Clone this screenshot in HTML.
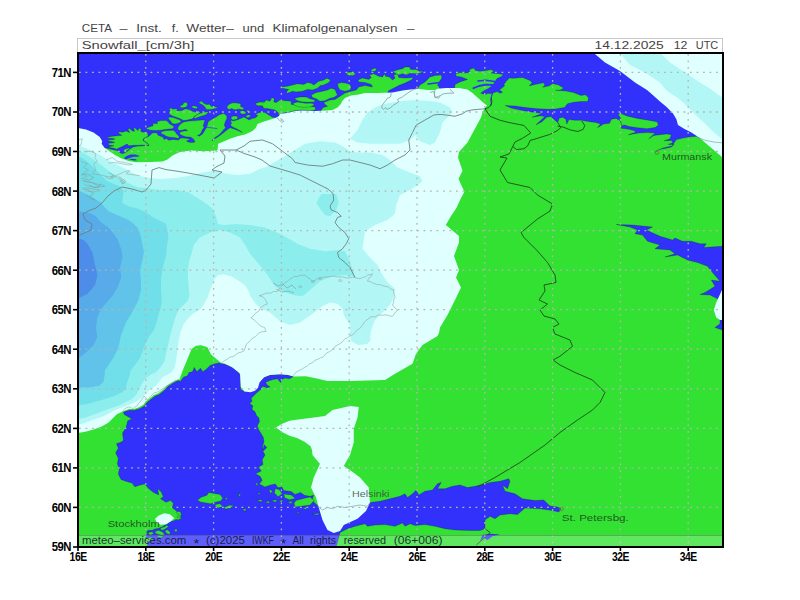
<!DOCTYPE html>
<html><head><meta charset="utf-8"><title>Snowfall</title>
<style>
html,body{margin:0;padding:0;background:#fff;}
body{width:800px;height:600px;overflow:hidden;}
svg{display:block}
text{font-family:"Liberation Sans",sans-serif;}
.ax text{font-weight:bold;font-size:12px;fill:#000;letter-spacing:-0.55px}
.t{font-size:11px;fill:#444;letter-spacing:0}
.c{font-size:9.3px;fill:#1e3c1e;fill-opacity:0.85}
.f{font-size:10px;fill:#0c1428;fill-opacity:0.88}
</style></head><body>
<svg width="800" height="600" viewBox="0 0 800 600">
<rect width="800" height="600" fill="#fff"/>
<defs><clipPath id="cp"><rect x="78" y="53" width="645" height="494"/></clipPath></defs>
<g clip-path="url(#cp)">
<rect x="78" y="53" width="645" height="494" fill="#3131fb"/>
<rect x="78" y="53" width="645" height="494" fill="#32e132"/>
<polygon points="78,53 722,53 722,143 713.75,142 705.6,140.4 699,138 697.5,136.3 688.5,137 683,138 676.4,139.6 672,146 663,148 656,151.4 660,149.3 665,148.5 671.5,146.9 674,144.4 668.25,144.4 673,142.8 671.5,140.4 664.2,140.7 669.9,138.75 671.5,134.7 666.6,133.9 660,134.7 653.6,135.5 648.75,138.75 655.25,133 647,132.6 639,133 628.4,134.7 635.75,132.25 634,130.6 627.6,129 621,128.2 622,125 620.3,120.9 616.25,118.4 611.4,119.25 609.5,123.25 603.5,124 597.5,127.75 600.5,124 596,122.5 590,121.75 581,120.25 575,120.25 569,119.5 566.75,124 566,119.5 563,117.25 559.25,118 557.75,122.5 554,119.5 551,116.5 546.5,117.25 542,121.75 536,124.75 545,116.5 540.5,115.75 532.25,117.25 542,113.5 537.5,112.75 530,111.7 522.5,110.5 512,108.25 505.25,105.6 515,106 525.5,107.5 537.5,108.7 549.5,109.3 555.5,109 560,108.25 564.5,107.5 567.5,103.75 573.5,102.25 581,101.5 587.75,101.5 588.5,97.75 585.5,94.75 581,95.5 573.5,92.5 566,91 555.5,90.25 560,90.25 563.75,88 558.5,85 552.5,83.5 549.5,85.75 542.75,87.25 545,85 543.5,82.75 536,84.25 529.25,85.75 532.25,82.75 530,80.5 522.5,77.5 513.5,78.25 509.4,78 506,81.4 503.75,84.8 504.8,85.6 502.6,87.6 499.25,89.9 502.6,92.1 500.4,93.25 497,91.6 493.6,92.7 490.25,93.8 488,93.25 485.75,94.4 480.7,93.25 483.5,91 488,88.75 492.5,85.4 494.7,82 497,78.6 501.5,76.4 503.2,74.4 498.75,73.75 491.25,73.1 493.75,71.25 491.25,69.4 486.25,70.6 480,71.25 475.6,70.6 473.75,68.1 469.4,69.4 470,71.9 466.25,73.1 460,72.5 455.6,73.75 456.25,76.25 461.25,76.9 467.5,79.4 460,81.9 455,84.4 454,95 444,95 439.4,88.1 438.75,86.25 437.5,85 438.75,82.5 441.9,78.1 441.25,75 435,75.6 430,76.9 425,81.9 420,85 417.5,88.75 414,95 386,96 388.75,90.6 392.5,88.75 398.75,85.6 405,83.1 411.25,80 413.75,77.5 405,78.1 398.75,77.5 397.5,73.75 393.75,75 395,78.1 392.5,80 389.4,76.9 385.6,76.25 384.4,73.75 382.5,76.9 378.75,76.25 373.75,73.75 369.4,75 371.25,77.5 368.75,79.4 362.5,78.1 358.1,80 358.75,81.9 365,82.5 371.25,84.4 372.5,86.9 365,85.6 358.75,86.9 356.25,90 350,91.5 345,93.1 340,96.25 335,99.4 330,100 323.75,102.5 325,104.4 327.5,106.25 323.1,107.5 321.25,110 320,120 280,122 276.9,117.75 272.5,117.25 268.75,115 265,112.5 261.5,112.1 258,112.9 255.4,114.7 258,115.6 255.4,117.75 251.9,118.6 249.25,119.9 246.6,118.6 244,116.9 240.5,118.6 237,119.9 233.5,120.8 231.3,120.4 230.4,121.25 231.75,123 230.4,124.75 231.75,126.5 235.25,128.25 238.75,130 242.25,132.4 237.9,130.4 233.5,128.7 230,127.8 227.4,129.6 224.75,131.75 221.25,134.4 217.75,137 214.7,138.75 212,141 212.9,139.2 215.1,137.4 218.6,135.25 221.25,132.6 223.4,130 225.6,127.8 224.3,125.2 225.2,122.1 226.9,118.6 226.9,116 223.9,113.5 219.9,114.4 216,116.9 211.6,119.5 208.6,121.25 207.8,123 207.3,125.6 206.1,128.25 204.4,130.9 202.6,133.9 199.3,136.2 197.4,135.25 199.9,134.6 201.2,132.4 202.4,129.6 204,127.8 203.2,125.6 204,123 205,119.9 201.25,120.1 196,120.6 189,121 183.75,121.9 181.1,123.6 178.5,126.25 177.6,128.9 179.4,130.6 182,130.2 185.5,129.3 187.7,130.6 183.75,131 180.25,131.9 179.4,133.7 182,135.4 185.5,136.75 190.75,137.2 193.4,138.9 195.1,142 192.5,142.6 189,142.2 186.4,141.1 188.8,139.9 190,138.8 187.25,138.5 183.75,138.1 180.7,138.1 178.5,140.1 173.25,139.4 168.9,140.25 166.25,138.5 164,139.4 163,137 160.4,136.2 158.2,135.3 156.9,133.1 154.25,132.7 152.5,133.1 150.3,134.9 148.5,136.4 145.7,137.5 143.7,138.8 143.5,140.6 145.7,142 148,143.8 149,145.6 143.75,145.8 138.5,146.1 133.25,146.9 130.2,148.7 128,150.8 125.4,152.8 121.9,153.7 118.8,151.9 117.1,150.4 112.25,149.5 107.4,148.2 103.9,148 100,160 78,165" fill="#3131fb" stroke="#001020" stroke-opacity="0.5" stroke-width="0.45" stroke-linejoin="round"/>
<polyline points="477.9,80.9 485.75,80.3 494.7,81.5" fill="none" stroke="#3131fb" stroke-width="1.5" stroke-linecap="round" stroke-linejoin="round"/>
<polyline points="473.4,88.2 479,86 485.75,84.6 492.5,85" fill="none" stroke="#3131fb" stroke-width="1.8" stroke-linecap="round" stroke-linejoin="round"/>
<polyline points="492.5,93.25 491.4,96.6 490.8,100 491.4,103.4 490.25,105.6" fill="none" stroke="#3131fb" stroke-width="1.1" stroke-linecap="round" stroke-linejoin="round"/>
<polyline points="428,84 440,82.5" fill="none" stroke="#3131fb" stroke-width="1.5" stroke-linecap="round" stroke-linejoin="round"/>
<polygon points="107.437,137.06 113.123,136.185 117.498,135.748 121.872,135.311 118.373,133.123 118.81,131.811 122.747,132.248 126.247,130.936 129.746,132.686 127.997,129.186 129.309,128.311 132.371,130.936 134.558,131.374 133.683,128.311 134.996,127.874 137.62,130.499 139.37,128.311 141.12,128.749 140.682,131.374 142.87,132.248 145.494,131.811 147.682,133.123 148.119,136.185 145.494,137.498 143.307,138.81 142.87,140.56 145.057,141.872 147.244,143.622 148.994,145.372 144.619,145.372 141.995,144.934 138.495,145.372 133.246,145.372 128.871,145.809 127.122,144.059 124.497,145.372 121.872,146.684 118.81,147.997 116.623,149.309 113.123,147.997 107.874,147.559 111.374,146.247 113.998,145.809 108.749,144.934 108.311,143.185 112.248,142.922 114.873,142.31 108.749,140.997 108.311,139.685 113.123,139.685 114.873,138.81 107.874,137.935" fill="#32e132" stroke="#001020" stroke-opacity="0.5" stroke-width="0.45" stroke-linejoin="round"/>
<polygon points="123.185,150.621 125.372,148.871 128.871,147.997 129.746,148.871 127.122,150.621 124.497,151.934" fill="#32e132" stroke="#001020" stroke-opacity="0.5" stroke-width="0.45" stroke-linejoin="round"/>
<polygon points="123.622,158.058 127.122,155.871 130.621,154.558 134.996,154.558 138.495,155.433 139.808,156.308 136.745,156.745 133.246,156.745 129.746,158.058 126.247,159.37" fill="#3131fb" />
<polygon points="128.871,159.545 131.496,158.67 134.996,158.933 137.62,160.245 134.121,160.42" fill="#3131fb" />
<polygon points="146.124,127.997 153.123,125.809 152.686,123.622 157.498,123.622 157.06,121.435 160.997,120.56 166.247,120.56 167.997,121.872 169.746,124.059 172.371,125.372 174.121,127.122 172.371,128.871 166.247,129.309 160.997,130.184 155.748,130.621 150.499,130.184 146.999,129.309" fill="#32e132" stroke="#001020" stroke-opacity="0.5" stroke-width="0.45" stroke-linejoin="round"/>
<polygon points="170.184,114.873 168.871,113.123 170.184,110.499 168.871,109.624 171.059,107.874 172.808,109.186 174.996,108.749 177.62,109.186 176.745,110.936 181.995,110.499 185.494,108.749 188.994,109.624 192.493,111.374 195.993,112.248 198.618,110.936 200.367,112.248 197.743,114.436 194.243,116.623 192.493,118.81 187.244,120.122 183.745,120.56 180.245,118.81 176.745,117.498 173.246,116.185" fill="#32e132" stroke="#001020" stroke-opacity="0.5" stroke-width="0.45" stroke-linejoin="round"/>
<polygon points="168.871,117.06 173.246,117.498 176.745,118.81 180.245,120.122 181.12,121.872 178.495,123.185 174.996,124.059 171.934,123.622 170.621,120.997 168.434,118.81" fill="#32e132" stroke="#001020" stroke-opacity="0.5" stroke-width="0.45" stroke-linejoin="round"/>
<polygon points="179.808,106.124 182.87,104.812 183.745,102.625 186.369,102.187 187.682,104.374 186.369,106.999 183.307,107.874 180.682,107.437" fill="#32e132" stroke="#001020" stroke-opacity="0.5" stroke-width="0.45" stroke-linejoin="round"/>
<polygon points="191.181,106.562 194.243,105.687 197.743,106.999 196.868,108.749 193.368,108.311" fill="#32e132" stroke="#001020" stroke-opacity="0.5" stroke-width="0.45" stroke-linejoin="round"/>
<polygon points="161.435,131.496 166.247,130.621 173.246,130.184 174.996,131.496 176.745,134.121 179.37,136.745 178.495,138.495 174.121,137.62 169.746,137.183 166.247,136.308 163.622,134.558 160.997,133.683" fill="#32e132" stroke="#001020" stroke-opacity="0.5" stroke-width="0.45" stroke-linejoin="round"/>
<polygon points="193.5,117.8 196,115.5 199.5,113.6 203.9,112.2 207.4,111.8 208.3,112.6 205.5,114.9 200.25,116.6 195,118.4" fill="#32e132" stroke="#001020" stroke-opacity="0.5" stroke-width="0.45" stroke-linejoin="round"/>
<polygon points="198.5,102.437 201.562,101.124 203.749,103.311 206.374,104.624 209.436,104.186 211.185,106.374 215.122,106.811 218.622,107.248 215.122,108.561 211.623,109.436 206.374,109.436 205.061,107.248 202.874,105.061 200.249,103.749" fill="#32e132" stroke="#001020" stroke-opacity="0.5" stroke-width="0.45" stroke-linejoin="round"/>
<polygon points="226.934,106.811 229.121,104.186 232.62,102.874 236.995,103.049 240.932,103.749 240.494,106.374 242.244,107.248 243.994,108.123 243.119,109.873 240.494,109.436 238.745,108.998 236.12,109.873 233.495,109.436 231.745,108.561 229.121,109.436 227.371,108.561" fill="#32e132" stroke="#001020" stroke-opacity="0.5" stroke-width="0.45" stroke-linejoin="round"/>
<polygon points="231.308,116.872 233.495,115.997 236.995,115.997 237.87,118.185 236.12,119.497 232.62,119.934 231.045,118.622" fill="#32e132" stroke="#001020" stroke-opacity="0.5" stroke-width="0.45" stroke-linejoin="round"/>
<polygon points="239.619,111.623 242.244,110.748 244.869,111.185 246.181,112.935 243.994,114.248 240.932,113.81" fill="#32e132" stroke="#001020" stroke-opacity="0.5" stroke-width="0.45" stroke-linejoin="round"/>
<polygon points="246.619,110.748 248.368,109.873 249.243,112.06 247.493,112.498" fill="#32e132" stroke="#001020" stroke-opacity="0.5" stroke-width="0.45" stroke-linejoin="round"/>
<polygon points="255.367,103.311 258.867,102.437 262.367,101.999 264.991,101.562 267.616,102.874 266.741,108.123 264.991,108.561 263.241,108.123 262.367,105.499 258.867,105.499 256.242,104.624" fill="#32e132" stroke="#001020" stroke-opacity="0.5" stroke-width="0.45" stroke-linejoin="round"/>
<polygon points="245.744,115.997 248.368,114.685 250.993,115.56 249.243,117.31 246.619,117.747" fill="#32e132" stroke="#001020" stroke-opacity="0.5" stroke-width="0.45" stroke-linejoin="round"/>
<polyline points="204.5,127.2 208.1,127.4 216.9,128.5" fill="none" stroke="#3131fb" stroke-width="0.7" stroke-linecap="round" stroke-linejoin="round"/>
<polygon points="255,103.75 260,101.875 263.75,103.125 266.25,100 270,101.25 271.875,97.5 274.375,98.75 273.75,101.875 276.25,102.5 280,100 285,100.625 291.25,101.25 291.25,104.375 297.5,105 302.5,106.875 310,106.25 315,106.875 315.625,110 310,110.625 302.5,110 295,110.625 287.5,112.5 281.25,113.125 278.75,115 278.125,112.5 275,110 272.5,109.375 268.75,108.75 263.75,108.125 262.5,105.625 257.5,105.625" fill="#32e132" stroke="#001020" stroke-opacity="0.5" stroke-width="0.45" stroke-linejoin="round"/>
<polygon points="280,86.875 287.5,86.25 292.5,85 297.5,83.75 303.75,84.375 307.5,82.5 311.25,83.125 313.75,85 318.75,81.25 323.75,80 326.875,78.125 330.625,80 328.75,82.5 323.75,85 320,85.625 317.5,88.125 312.5,90 307.5,89.375 302.5,91.25 296.25,91.875 292.5,91.25 287.5,93.125 286.25,91.875 288.75,89.375 285,88.75 280,87.5" fill="#32e132" stroke="#001020" stroke-opacity="0.5" stroke-width="0.45" stroke-linejoin="round"/>
<polygon points="294.375,98.125 300,96.875 306.25,96.875 310,98.75 315,100 314.375,101.875 308.75,102.25 302.5,101.875 297.5,100.625" fill="#32e132" stroke="#001020" stroke-opacity="0.5" stroke-width="0.45" stroke-linejoin="round"/>
<polygon points="293.125,103.125 297.5,101.875 305,103.125 312.5,103.125 314.375,105 310,106.875 303.75,107.5 297.5,106.5 293.75,105" fill="#32e132" stroke="#001020" stroke-opacity="0.5" stroke-width="0.45" stroke-linejoin="round"/>
<polygon points="311.25,95 316.25,92.5 322.5,91.25 327.5,90 331.25,88.125 335,89.375 336.25,92.5 337.5,95 333.75,97.5 330,98.125 325,100.625 320,101.25 316.25,98.75 312.5,97.5" fill="#32e132" stroke="#001020" stroke-opacity="0.5" stroke-width="0.45" stroke-linejoin="round"/>
<polygon points="337.5,83.75 341.25,82.5 346.25,83.125 350,84.375 351.25,86.875 350,90 345,91.25 340,90 338.125,86.875" fill="#32e132" stroke="#001020" stroke-opacity="0.5" stroke-width="0.45" stroke-linejoin="round"/>
<polygon points="346.25,72.5 350,71.875 351.875,73.125 350,75 346.875,74.375" fill="#32e132" stroke="#001020" stroke-opacity="0.5" stroke-width="0.45" stroke-linejoin="round"/>
<polygon points="393.125,71.25 398.75,69.375 402.5,68.75 405,66.875 409.375,66.875 410.625,69.375 416.25,69.375 419.375,71.25 423.75,71.25 420,73.125 415,73.75 410,73.125 406.25,75 402.5,73.75 398.75,75 395,73.125" fill="#32e132" stroke="#001020" stroke-opacity="0.5" stroke-width="0.45" stroke-linejoin="round"/>
<polygon points="370.625,70 374.375,68.125 376.875,68.75 375,71.25 371.875,71.25" fill="#32e132" stroke="#001020" stroke-opacity="0.5" stroke-width="0.45" stroke-linejoin="round"/>
<polygon points="346.25,73.125 351.25,71.875 356.25,73.75 352.5,75.625 347.5,75" fill="#32e132" stroke="#001020" stroke-opacity="0.5" stroke-width="0.45" stroke-linejoin="round"/>
<polygon points="617.9,114.4 621,113.6 626.8,116 637.4,118.4 647,120 656.9,121.7 658.5,125 655.25,127.4 647,128.7 637.4,127.7 629.25,126.6 624.4,125 622,125.5 620.5,121 620.3,117.6" fill="#32e132" stroke="#001020" stroke-opacity="0.5" stroke-width="0.45" stroke-linejoin="round"/>
<polygon points="616.25,224.5 632.5,225 652.5,227 646.25,230 660,236.25 672.5,240 675,238 682.5,241.25 691.25,241.25 700,243.75 706.25,243.75 703.75,247.5 722.5,246.25 722.5,330 715,327.5 720,323.75 720,300 710,295 700,294.5 705,292.5 715,286.25 711.25,280 720,281.25 712.5,272.5 707.5,266.25 697.5,262.5 687.5,260 677.5,255 665,257 675,253.75 670,250 655,248.75 660,245 647.5,241.25 642.5,235 635,233.75 637.5,230 630,227" fill="#3131fb" stroke="#001020" stroke-opacity="0.5" stroke-width="0.45" stroke-linejoin="round"/>
<polygon points="293.25,376.5 288,375 280.5,374.25 270,375 264.75,377.25 261,380.25 257.25,382.5 250,385 245,391.9 240.6,389.25 240.6,376 238,371.75 231,366.5 224,363.9 218.75,363 214.4,363.9 210,365.6 206.5,369 203,371.75 200.4,368.25 196.9,371.75 194.25,367.4 192.5,371.75 189,372.6 187.25,376 183.75,377 180.25,381.4 178.5,380.5 173.25,383 168,386.6 163.6,391 159.25,394.5 154.9,396.25 150.5,399.75 147,402.4 144.4,405.9 140,408.5 134.75,410.25 129.5,410.25 123.4,412 124.25,414.6 132,419 127.75,420.75 126,427.75 122.5,433 123.4,440 122,441.8 116.5,443.7 118.3,448.25 115.6,452.8 118.3,458.3 117.4,463.8 119.25,469.3 118.3,473.9 121,479.4 125.7,481.25 132,483 134.8,486.75 140.3,484.9 144.9,484 148.6,488.6 153.2,492.25 158.7,495 157.75,488.6 161.4,492.25 163.25,496.8 160.5,498.7 166,502.3 170.6,500.5 173.3,503.25 172.4,507.8 177,511.5 180.7,513.3 181.8,515 179.5,516.5 181.8,518 178.6,519.8 175.9,519.5 173.6,520.9 170.4,521.6 166.7,524.4 163.9,525.7 162.1,527.1 157.5,528.5 154.8,528.9 152,530.3 148.3,530.3 146.5,531.7 147.4,533.5 145.6,535.4 145.6,537.2 146.8,540 147.6,544.5 147,548 336,548 340,532.5 347.5,528.75 355,526.25 365,523.75 367.5,526.25 375,525 385,524.5 395,526.25 402.5,523 405,526.25 410,523.75 415,525.5 425,524.5 435,526.25 445,528.75 455,530 470,530.5 480,530.5 485,528.75 485,520 490,516.25 495,518.75 500,515 510,513.75 517.5,514.5 525,508 540,508.75 552.5,510.5 558.75,512 561,508.75 557.5,507 550,506 543.75,500 535,500.5 522.5,498.75 515,493.75 505,491.25 502.5,485 507.5,488.75 510,481.25 508.75,478.75 500,481.25 490,482.5 480,485 475,486.25 467.5,487.5 460,485 452.5,486.25 445,488.75 437.5,488.75 441.25,482.5 437.5,483.75 432.5,490 425,491.25 418.75,495 416.25,490 412.5,493.75 407.5,497.5 405,493.75 400,496.25 390,498.75 380,501.25 370,502.5 340,506 317.5,505.6 315.6,503.75 311.9,500 313.75,495.3 310,496.25 304.4,495.3 300.6,492.5 295,494.4 291.25,491.6 283.75,490.6 281.9,486.9 278,487.8 275.3,484 270.6,485 265,486.9 259.4,484 262.2,480.3 260.3,476.6 255.6,473.75 261.25,471 258.4,467.2 263,464.4 262.2,459.7 265,455 263,451.25 266.9,447.5 264,444.7 263.25,450 262.5,446.25 264,441.75 263.25,437.25 261,433.5 258.75,429.75 257.25,426 259.5,421.5 258.75,417.75 256.5,415.5 255,411.75 252,409.5 252.75,405.75 249.75,403.5 252,401.25 251.25,398.25 254.25,395.25 257.25,392.25 261,389.25 262.5,386.25 267,387.75 270,387 267,384.75 265.5,382.5 268.5,381 273,379.5 277.5,378.75 280.5,382.5 282,379.5 285,378 289.5,378.75" fill="#3131fb" stroke="#001020" stroke-opacity="0.5" stroke-width="0.45" stroke-linejoin="round"/>
<polygon points="482.5,535 490,533.75 500,534.5 492.5,536.25 487.5,540 483.75,537.5 480,541.25" fill="#3131fb" />
<polygon points="160.275,528.028 164.862,526.651 166.697,525.275 168.532,526.193 166.697,528.028 163.945,529.862 161.193,530.321" fill="#32e132" stroke="#001020" stroke-opacity="0.5" stroke-width="0.45" stroke-linejoin="round"/>
<polygon points="164.862,530.78 167.615,529.862 170.367,532.615 169.45,534.45 166.697,533.532" fill="#32e132" stroke="#001020" stroke-opacity="0.5" stroke-width="0.45" stroke-linejoin="round"/>
<polygon points="154.771,531.697 158.44,530.321 162.11,531.697 164.862,534.45 162.11,535.367 158.44,534.45 155.688,533.532" fill="#32e132" stroke="#001020" stroke-opacity="0.5" stroke-width="0.45" stroke-linejoin="round"/>
<polygon points="148.349,532.615 152.018,531.697 153.853,533.532 151.101,534.908 148.807,534.45" fill="#32e132" stroke="#001020" stroke-opacity="0.5" stroke-width="0.45" stroke-linejoin="round"/>
<polygon points="156.606,535.367 160.275,535.826 163.945,536.743 161.193,537.661 157.523,536.743" fill="#32e132" stroke="#001020" stroke-opacity="0.5" stroke-width="0.45" stroke-linejoin="round"/>
<polygon points="174.037,529.862 176.789,528.945 177.248,531.239 175.413,531.697" fill="#32e132" stroke="#001020" stroke-opacity="0.5" stroke-width="0.45" stroke-linejoin="round"/>
<polygon points="170.367,535.367 172.202,535.826 171.284,536.743" fill="#32e132" stroke="#001020" stroke-opacity="0.5" stroke-width="0.45" stroke-linejoin="round"/>
<polygon points="146.514,538.119 151.101,537.202 153.853,538.578 151.101,540.872 147.431,541.33 144.679,539.954" fill="#32e132" stroke="#001020" stroke-opacity="0.5" stroke-width="0.45" stroke-linejoin="round"/>
<polygon points="175.872,511.972 179.541,511.514 181.376,513.349 179.541,514.725 177.248,513.807" fill="#32e132" stroke="#001020" stroke-opacity="0.5" stroke-width="0.45" stroke-linejoin="round"/>
<polygon points="177.706,515.642 181.376,516.284 179.083,517.936 176.789,517.294" fill="#32e132" stroke="#001020" stroke-opacity="0.5" stroke-width="0.45" stroke-linejoin="round"/>
<polygon points="197.5,500 201.25,497.2 206.9,495.3 208.75,492.5 214.4,493.4 220,494.4 222.8,498 220.9,501 216.25,501.9 210.6,503.75 205,502.8 200.3,501.9" fill="#32e132" stroke="#001020" stroke-opacity="0.5" stroke-width="0.45" stroke-linejoin="round"/>
<polygon points="214.4,504.7 220,503.75 222.8,506.6 218,507.9" fill="#32e132" stroke="#001020" stroke-opacity="0.5" stroke-width="0.45" stroke-linejoin="round"/>
<polygon points="223.75,507.5 229.4,505.25 234,505.6 230.3,507.9 225.6,509" fill="#32e132" stroke="#001020" stroke-opacity="0.5" stroke-width="0.45" stroke-linejoin="round"/>
<polygon points="256.567,500.004 262.192,499.629 261.254,501.879" fill="#32e132" stroke="#001020" stroke-opacity="0.5" stroke-width="0.45" stroke-linejoin="round"/>
<polygon points="265.005,501.879 269.692,500.941 268.755,503.379" fill="#32e132" stroke="#001020" stroke-opacity="0.5" stroke-width="0.45" stroke-linejoin="round"/>
<polygon points="271.568,500.379 277.193,499.629 275.318,502.254" fill="#32e132" stroke="#001020" stroke-opacity="0.5" stroke-width="0.45" stroke-linejoin="round"/>
<polygon points="279.068,500.941 282.818,499.629 281.881,502.816" fill="#32e132" stroke="#001020" stroke-opacity="0.5" stroke-width="0.45" stroke-linejoin="round"/>
<polygon points="255.254,482.753 257.879,483.503 257.129,486.128" fill="#32e132" stroke="#001020" stroke-opacity="0.5" stroke-width="0.45" stroke-linejoin="round"/>
<polygon points="257.504,492.503 260.504,493.253 259.004,494.378" fill="#32e132" stroke="#001020" stroke-opacity="0.5" stroke-width="0.45" stroke-linejoin="round"/>
<polygon points="311.883,514.067 319.383,513.13 317.508,515.005" fill="#32e132" stroke="#001020" stroke-opacity="0.5" stroke-width="0.45" stroke-linejoin="round"/>
<polygon points="295.944,512.755 299.132,512.005 298.382,513.505" fill="#32e132" stroke="#001020" stroke-opacity="0.5" stroke-width="0.45" stroke-linejoin="round"/>
<polygon points="242.503,509.379 246.254,508.442 245.316,511.254" fill="#32e132" stroke="#001020" stroke-opacity="0.5" stroke-width="0.45" stroke-linejoin="round"/>
<polygon points="238.378,493.441 240.628,494.753 239.503,497.191" fill="#32e132" stroke="#001020" stroke-opacity="0.5" stroke-width="0.45" stroke-linejoin="round"/>
<polygon points="224.502,497.191 227.502,498.129 226.565,500.004" fill="#32e132" stroke="#001020" stroke-opacity="0.5" stroke-width="0.45" stroke-linejoin="round"/>
<polygon points="275.318,488.378 279.068,489.503 282.256,493.816 278.131,496.629 274.38,492.878" fill="#32e132" stroke="#001020" stroke-opacity="0.5" stroke-width="0.45" stroke-linejoin="round"/>
<polygon points="283.756,494.003 291.256,494.941 295.382,498.504 289.381,499.629 284.693,497.754" fill="#32e132" stroke="#001020" stroke-opacity="0.5" stroke-width="0.45" stroke-linejoin="round"/>
<polygon points="295.944,500.379 302.507,498.691 310.008,497.004 314.133,500.379 310.008,505.067 302.507,506.004 295.007,506.942 294.069,503.191" fill="#32e132" stroke="#001020" stroke-opacity="0.5" stroke-width="0.45" stroke-linejoin="round"/>
<polygon points="268.755,489.128 272.505,491.003 270.63,493.816" fill="#32e132" stroke="#001020" stroke-opacity="0.5" stroke-width="0.45" stroke-linejoin="round"/>
<polygon points="302.507,507.879 307.195,507.129 305.882,509.379" fill="#32e132" stroke="#001020" stroke-opacity="0.5" stroke-width="0.45" stroke-linejoin="round"/>
<polygon points="287.506,501.879 292.194,501.129 291.256,503.754" fill="#32e132" stroke="#001020" stroke-opacity="0.5" stroke-width="0.45" stroke-linejoin="round"/>
<polygon points="78,128 86,129.4 93.5,132.5 99.75,136.9 102.25,141.25 101.6,143.75 104.5,147.75 109.75,151.5 115,154.9 121,158.25 128.5,160.9 136,162.3 150,162 162.5,161.5 167.5,159.4 172.5,155.5 180,151.9 191.25,150.6 203.75,151.25 217.5,150.6 218.1,143.75 222.5,141.9 230,138.75 237.5,136.25 245,134.4 252.5,131 256,127.5 257.5,124 262.5,122 269,120 276,117.75 279,116 280,113.75 287.5,113 295,111 302.5,110.6 315,111 327.5,110.6 332.5,110 337.5,107.5 341,103.75 342,101.25 345,98 351,95.6 358.75,94.4 365,93 377.5,93 392.5,92.5 402.5,90.6 410,89.4 417.5,88.75 427.5,90 435,90 437.5,88.75 446,88 458.75,88 467.5,89.4 472.5,93 477.5,97.5 482.5,102 487,105.6 484.4,108.75 482.5,112.5 481,117.5 477.5,124 467.5,142.5 459,152 458,157.5 462.5,170.8 458.5,179 464.4,191.7 461,198 456.25,208.3 451,216 445.8,225 459,236 459,242.5 454,256 459,270 456,277.5 461,287.5 455,300 447.5,315 440,327.5 439,333 437.5,336 422.5,345 416,353.75 412.5,363.75 395,373.75 385,380 350,381 327.5,381 318,378.75 306,376.2 294,376.5 288,375 280.5,374.25 270,375 264,377.25 259.5,382.5 258,387.75 255,390.75 250.5,392.25 244.5,391.5 240.75,387 240,373.5 232.5,367.5 225,363.75 221.4,363 217,359.5 210.9,354.25 207.4,347.25 201.25,345.15 196,345.85 191.6,349 187.25,359.5 182.9,370 179.4,379.6 177.5,379.5 172.5,382 167,385.5 162.6,390 158.25,393.3 153.9,395 149.5,398.5 146,401.2 143.4,404.7 139,407.3 134,409 129,409 122.6,411.4 116.8,414.3 113.3,417.8 108.6,422.5 101.7,426.5 93.5,429.5 85.3,431.8 78,433" fill="#e0ffff" />
<polygon points="276,427.5 282,423.75 289.5,420.75 300,419.25 312,417.75 325,416 332.5,410 350,406 358.75,407 357.5,417.5 353.75,428.75 353.75,442.5 350,455 343.75,466 350,470 360,477.5 368.75,487.5 370,502.5 366,511 357.5,518.75 343.75,525 340,531 333.75,533 327.5,530 322.5,520 318.75,507.5 316,497.5 311,487.5 313.75,477.5 320,463.75 318.75,462.5 312.5,455 312,450 310.5,446.25 304.5,441.75 297,438 289.5,435.75 282,432" fill="#e0ffff" />
<polygon points="155,518.8 158.7,515.5 164.2,513.3 169.7,514.25 174.25,517.9 170.6,521.6 166,524.3 160.5,524.7 156.8,522.5" fill="#e0ffff" />
<polygon points="593.75,53 605,62.5 620,71 635,82.5 647,90 653.6,95.7 660,101.4 666.6,107 673,113.5 676.4,119.25 678,125 684.5,129 691,132.25 696,135.5 700.75,138.75 707.25,144.4 713.75,150 722,157 722,53" fill="#e0ffff" />
<polygon points="620,53 630,65 645,72.5 660,82.5 665.8,90 671.5,94 678,98 684.5,103.8 691,110.3 697.5,116.8 705.6,124 713.75,132.25 722,139 722,97.3 717,94 712,90 700,82.5 685,72.5 670,62.5 660,53" fill="#b2f7f5" />
<polygon points="722,290 716.25,302.5 713.75,310 716.25,317.5 720,320 722.5,320" fill="#e0ffff" />
<polygon points="78,145 90,150 100,155 110,161.25 125,168.75 136,174.5 146,177.5 160,179 176,178 188,176 200,173 212,171 220,172 228,174 238,175 250,173.75 260,168.75 265,167.5 282.5,157.5 295,150 305,143.75 320,141.25 335,142.5 345,147.5 350,151.25 357.5,152.5 370,152.5 382.5,155 390,160 397.5,167.5 410,172.5 420,176.25 422.5,181.25 417.5,185 410,190 400,195 396.25,205 395,213.75 387.5,220 375,225 365,231.25 363.75,240 362.5,248.75 370,257.5 377.5,265 382.5,275 387.5,282.5 395,288.75 393.75,297.5 390,305 382.5,312.5 375,320 371.25,330 370,337.5 365,342.5 355,341.25 350,335 350,325 343.75,315 342.5,308.75 337.5,303.75 330,302.5 322.5,306.25 312.5,313.75 300,322.5 290,325 280,321.25 270,312.5 260,308 255.5,303.5 250.25,296 248,290 245,285.5 239,281 231.5,276.5 224,274.25 218,275 214.25,279.5 212,285.5 209.75,291.5 207.5,297.5 204.5,303.5 200,309.5 192.5,314 188,318.5 183.5,324.5 180.5,332 178.5,342 176.75,356 175,366.5 171.5,372.6 162.75,377 156,385.75 150.6,389.25 146,393.3 141.3,398 136.6,401.5 129.6,404.4 122.6,407.3 113.3,410.8 106.3,415 99.3,417.8 92.3,420 85.3,423 78,424.8" fill="#b2f7f5" />
<polygon points="350,138.75 357.5,130 362.5,120 367.5,112.5 375,107.5 385,103.75 400,101.25 415,100 430,101 440,102.5 450,107.5 452.5,112.5 442.5,122.5 440,132.5 435,142.5 430,145 420,141.25 415,135 410,140 400,143.75 385,143.75 370,143.75 357.5,142.5" fill="#b2f7f5" />
<polygon points="350,336 355,333.5 362,333 369,335 371,340 367,344 358,345 351,341" fill="#b2f7f5" />
<polygon points="78,151.25 83.5,153.1 91,157.5 98.5,163.1 106,168.75 113.5,174.4 121,178.75 126,181.9 132.25,185 138.5,187.5 146,188.1 160,190 176,190 188,192 196,197 204,202 212,208 216,216 218,224 224,225 236,224 250,225 265,227.5 282.5,235 297.5,243.75 310,248.75 325,251.25 337.5,250 345,251.25 350,261.25 352.5,270 355,276.25 345,275 332.5,276.25 320,281.25 310,290 302.5,296.25 292.5,295 282.5,291.25 275,286.25 267.5,275 257.5,262.5 250,253.75 245,245 240,237.5 230,232.5 220,230 210,232.5 200,237.5 193.75,245 191.25,255 189.5,260 188,269 188,278 188.75,287 189.5,294.5 188,300.5 183.5,305 179,309.5 176,315.5 173.75,323 171.5,330.5 169.25,339.5 167,350 164.5,361.25 160,368 156,372.3 150.6,374.7 144.8,379.3 141.3,385 139,389.8 136.6,394.5 132,399 125,402.6 118,406 108.6,409 99.3,412.5 92.3,415 85.3,417.8 78,419" fill="#8ceeec" />
<polygon points="316.25,202.5 321.25,194 336.25,194 338.75,202.5 336.25,210 330,216.25 325,215 320,208.75" fill="#8ceeec" />
<polygon points="78,156.25 83.5,158.75 88.5,162.5 93.5,167.5 98.5,172.5 103.5,177.5 107.25,181.25 113.5,183.75 119.75,186.25 123.5,191.25 122.9,197.5 122.25,203.1 128.5,206.25 138.5,208.75 146,212.5 153.5,217.5 161,221.25 166,223.75 167.25,230 168.5,237.5 167,245 166.25,255 164.75,260 162.5,269 161,279.5 161,290 161.75,299 161,306.5 158.75,314 156.5,323 153.5,330.5 149,336.5 146,342.5 143,350 140,358 135,365 130.8,370 129.6,375.8 127.3,381.7 126,387.5 122.6,392 114.5,396 105,399 94.7,402 85.3,404.4 78,405" fill="#70dfe9" />
<polygon points="78,190.6 86,193.75 93.5,198 101,202.5 104.75,207.5 108.5,211.25 117.25,215 126,218.75 132.25,222.5 137.25,227.5 139.75,232.5 141,237.5 142.5,245 144,252 142.5,260 140,270 141,280 141,290 138.5,300 133.5,310 126,322.5 121,335 118.5,347.5 113.5,357.5 108,366 105,370 104.6,375.8 103.4,381.7 99.3,385.75 90,387.5 78,387.5" fill="#61c3e9" />
<polygon points="78,211.25 83.5,211.9 89.75,213 96,216.25 99.75,221.25 104.75,225 109.75,228.75 113.5,233.75 117.25,238.75 119.75,245 121.5,250 122.5,257.5 120,267.5 121.25,277.5 117.5,287.5 113,295 107,302 101,309 97.25,317.5 96,327.5 97.25,337.5 93.5,345 86,352.5 78,358.75" fill="#56abe8" />
<polygon points="78,238 83.5,240 87.5,243.75 92.5,252.5 95,265 97.5,275 95,285 87.5,293.75 82,296.5 78,298.75" fill="#4e8ce9" />
<polyline points="512.75,146.5 509,154 500,157 507,158 500,170 507.5,182.5 530,187.5 537.5,195 552.5,204 550,211 537.5,219 521,232.5 524,237.5 537.5,251 547.5,262.5 555,275 556,282.5 544,285 545,291 539,300 547.5,304 540,310 544,316 555,319 559,324 552.5,327.5 555,334 570,340 572.5,346.25 560,356.25 553,360 560,365 575,372.5 592.5,380 605,392.5 600,402.5 592.5,410 577.5,420 560,432.5 545,445 520,462.5 495,477.5 477.5,487" fill="none" stroke="#1e4a1e" stroke-width="0.9"/>
<polyline points="485,108.75 490,116.25 500,120.25 509,122.5 524,125.5 530.75,133 522.5,138.25 515,142 512.75,146.5 516.5,149.5 524,148.75 527.75,145.75 530,140.5 537.5,138.25 549.5,134.5 557,130.75 560.75,127.75 557.75,122.5" fill="none" stroke="#1e4a1e" stroke-width="0.9"/>
<polyline points="557.75,126.25 563,127 570.5,130 578,131.5 583.25,129.25 584.75,125.5 581.75,121" fill="none" stroke="#1e4a1e" stroke-width="0.9"/>
<polyline points="485,108.75 488.75,107.5 491.25,105 491.9,101.25 491.25,98" fill="none" stroke="#1e4a1e" stroke-width="0.9"/>
<polyline points="485,528.75 490,532.5 485,537.5 476.25,545" fill="none" stroke="#1e4a1e" stroke-width="0.9"/>
<polyline points="485,108.75 482.5,109 477.5,109.4 471.25,110 466.25,111.25 462.5,113.75 455,116.25 446.25,115 440,114.4 433.75,115 425,120 416.25,125 412.5,132.5 408.75,140 410,150 405,155 395,160 387.5,165 380,168.75 370,165 360,162.5 350,160 342.5,160 332.5,163.75 322.5,166.25 307.5,165 295,162.5 292.5,158.75 282.5,151.25 272.5,143.75 262.5,140 250,141.25 244,146 236,150 220,150 225,156 224,163 216,167 212,170 222,172 214,178 204,176 188,173 176,171 166,169.6 159,167.6 152,170 151,184 146,190 142,192 132,189 122,187 114,191 108,196 102,203 96,208 88,211 83,214 85,220 92,224 91,230 78,236" fill="none" stroke="#6f7f80" stroke-width="0.9"/>
<polyline points="236,150 245,153.75 255,157 262,160 270,166 275,167.5 287,171 300,175 310,180 320,185 328,189 333,193.5 333.75,200 330,206.25 331.25,210 337.5,212.5 341.25,216.25 337.5,217.5 335,222.5 338.75,227.5 345,232.5 348.75,238.75 346.25,243.75 342.5,248.75 337.5,252.5 338.75,257.5 345,262.5 350,267.5 355,277.5" fill="none" stroke="#6f7f80" stroke-width="0.9"/>
<polyline points="221.4,363 224.3,360.76 227.5,359 230,357.13 233.11,356.48 235.75,354.9 238.19,352.91 241.28,352.18 244,350.75 245.14,347.91 246.03,344.94 248,342.5 250.34,340.68 252.21,338.25 255,337 256.92,334.92 259,333 262.36,331.58 266,331.5 264.6,327.4 261.51,326.59 259,324.6 256.91,322.63 255,320.5 250.9,317.75 253.32,316.04 255,313.6 259,310.9 259.96,308.48 261.9,306.75 264.45,304.98 267.4,304 266.18,301.16 264.6,298.5 262.12,296.48 259,295.75 261.84,294.95 264.55,293.76 267.4,293 270.71,293.29 273.7,291.35 277,291.6 278.96,289.89 280,287.5 282.28,285.16 284.64,282.9 287.5,281.25 289.66,279.07 292.33,277.66 295,276.25 297.56,276.44 299.94,275.12 302.52,275.44 305,275 307.36,277.25 310.13,279.01 312.5,281.25 315.03,280.38 317.25,278.72 319.75,277.78 322.5,277.5 324.94,276.72 327.54,277.16 329.99,276.45 332.5,276.25 335.03,276.2 337.49,276.89 340.01,276.93 342.53,276.93 345,277.5 347.5,277.97 350,277.82 352.5,277.09 355,277.5 357.47,278.24 360,278.75 362.52,277.54 365.27,276.79 367.5,275 370.09,274.73 372.5,273.75 371.12,276.44 368.53,278.32 367.5,281.25 370.19,281.5 372.54,282.79 375,283.75 377.4,284.77 380.14,284.46 382.5,285.61 385,286.25 388.21,286.82 390.73,289 393.75,290 393.75,292.57 394.47,295.02 395,297.5 393.6,299.81 393.62,302.59 392.5,305 394.78,307.72 397.5,310 395.72,311.99 394.07,314.09 392.5,316.25 389.99,316.07 387.55,315.21 385.07,314.79 382.5,315.29 380,315 377.44,315.37 375.17,316.93 372.42,316.56 370,317.5 367.96,319.21 365.69,320.69 364.01,322.76 362.5,325 360.87,327.12 358.88,328.88 356.68,330.43 355,332.5 352.9,334.71 350.03,335.68 347.78,337.64 345,338.75 342.89,341.3 340.45,343.46 337.5,345 335.15,346.33 333.7,348.8 331.5,350.32 329.28,351.8 326.71,352.87 325,355 323.19,356.9 320.71,357.74 318.46,358.93 316.01,359.81 313.9,361.23 312,363 309.31,363.9 307.38,366.11 304.87,367.32 302.51,368.8 300,370 297.27,371.53 294.86,373.44 293,376" fill="none" stroke="#93a5a5" stroke-width="0.6"/>
<polyline points="317.5,506.25 322.5,510 327.5,507.5 332.5,508.75 337.5,506.25 345,507.5 352.5,506.25 360,505 367.5,506.25 370,502.5" fill="none" stroke="#8c9c9c" stroke-width="0.7"/>
<polyline points="273,283 278,286 283,284 287,288 292,285 296,289" fill="none" stroke="#7f9092" stroke-width="0.55"/>
<polyline points="276,289 282,292 288,291 294,293" fill="none" stroke="#7f9092" stroke-width="0.55"/>
<ellipse cx="300.4" cy="286.7" rx="1.6" ry="0.9" fill="none" stroke="#8a9b9d" stroke-width="0.5"/>
<ellipse cx="312.8" cy="281.5" rx="1.6" ry="0.9" fill="none" stroke="#8a9b9d" stroke-width="0.5"/>
<ellipse cx="320.2" cy="278.7" rx="1.6" ry="0.9" fill="none" stroke="#8a9b9d" stroke-width="0.5"/>
<ellipse cx="340.3" cy="280.6" rx="1.6" ry="0.9" fill="none" stroke="#8a9b9d" stroke-width="0.5"/>
<polyline points="122.6,411.4 124.86,408.66 128,407 130.74,407.4 133,409 134.68,407.07 137,406 138.58,403.17 141,401 142.47,398.48 144,396 145.87,398.13 148,400 149.63,397.2 152,395 154.56,392.61 158,392 160.91,389.87 164,388 166.85,385.78 170,384 173.07,382.11 176,380" fill="none" stroke="#93a5a5" stroke-width="0.6"/>
<polyline points="391.25,93.125 390.625,96.875 387.5,98.125 386.25,100 383.75,103.125 381.875,105.625 381.875,108.125 383.75,109.375 385.625,107.5 386.875,109.375 390,108.125 393.75,105 398.75,101.875 397.5,99.375 402.5,96.875 407.5,93.125 412.5,90 416.25,88.75" fill="none" stroke="#8c9c9c" stroke-width="0.8"/>
<polyline points="435,90 434.375,93.75 435,97.5 438.75,98.125 440,96.25" fill="none" stroke="#8c9c9c" stroke-width="0.8"/>
<polyline points="430,92.5 433.75,91.25 435,97.5 438.75,96.25 443.75,93.75 450,93.125 453.75,93.125 451.25,90.625 450,88.75" fill="none" stroke="#8c9c9c" stroke-width="0.8"/>
<polyline points="276.875,117.75 279.375,120 281.875,122.5 283.75,121.25 280.625,118.125" fill="none" stroke="#8c9c9c" stroke-width="0.8"/>
<polyline points="699,138 705.6,140.4 713.75,142 722,142.8" fill="none" stroke="#9aa" stroke-width="0.8"/>
<polyline points="78.5,140 82.25,138.75 81,145 78.5,146.25" fill="none" stroke="#8fa3a5" stroke-width="0.55"/>
<polyline points="83.5,151.875 91,151.25 96,153.75 94.75,157.5 97.25,161.25 93.5,163.75 96,170 92.25,172.5" fill="none" stroke="#8fa3a5" stroke-width="0.55"/>
<polyline points="106,160 112.25,157.5 117.25,161.25 124.75,162.5 132.25,164.375 128.5,165 118.5,163.125 113.5,162.5 108.5,163.125" fill="none" stroke="#8fa3a5" stroke-width="0.55"/>
<polyline points="92.25,173.75 101,175 108.5,176.875 117.25,175 126,171.25 129.75,170.625 126,173.75 134.75,175 139.75,175.625" fill="none" stroke="#8fa3a5" stroke-width="0.55"/>
<polyline points="81,161.25 87.25,163.75 83.5,167.5 88.5,170 82.25,173.75 87.25,176.25 81,178.75" fill="none" stroke="#8fa3a5" stroke-width="0.55"/>
<polyline points="117.25,177.5 122.25,180 124.75,182.5 122.25,183.75 119.75,180" fill="none" stroke="#8fa3a5" stroke-width="0.55"/>
<polyline points="81,180 91,182.5 101,185 97.25,187.5 88.5,186.25 83.5,183.75" fill="none" stroke="#8fa3a5" stroke-width="0.55"/>
<polyline points="83.5,187.5 92.25,188.75 99.75,190 94.75,191.875 87.25,191.25" fill="none" stroke="#8fa3a5" stroke-width="0.55"/>
<polyline points="104.75,176.25 108.5,178.75 113.5,178.125" fill="none" stroke="#8fa3a5" stroke-width="0.55"/>
<polyline points="81,175 87.25,173.75 93.5,177.5 89.75,180 83.5,178.75" fill="none" stroke="#82989c" stroke-width="0.55"/>
<polyline points="83.5,181.25 92.25,182.5 98.5,186.25 101,183.75 104.75,186.25 94.75,187.5 88.5,185" fill="none" stroke="#82989c" stroke-width="0.55"/>
<polyline points="82.25,188.75 88.5,190 93.5,193.75 89.75,196.25 94.75,200 91,198.75 86,195" fill="none" stroke="#82989c" stroke-width="0.55"/>
<polyline points="108.5,172.5 113.5,175 111,177.5 117.25,176.25" fill="none" stroke="#82989c" stroke-width="0.55"/>
<polyline points="118.5,176.25 126,181.25 123.5,183.75 121,180" fill="none" stroke="#82989c" stroke-width="0.55"/>
<g stroke="#b6b4b0" stroke-width="1.3" stroke-dasharray="1.8 4.7" fill="none">
<line x1="78.0" y1="54" x2="78.0" y2="546"/>
<line x1="145.8" y1="54" x2="145.8" y2="546"/>
<line x1="213.6" y1="54" x2="213.6" y2="546"/>
<line x1="281.4" y1="54" x2="281.4" y2="546"/>
<line x1="349.2" y1="54" x2="349.2" y2="546"/>
<line x1="417.0" y1="54" x2="417.0" y2="546"/>
<line x1="484.8" y1="54" x2="484.8" y2="546"/>
<line x1="552.6" y1="54" x2="552.6" y2="546"/>
<line x1="620.4" y1="54" x2="620.4" y2="546"/>
<line x1="688.2" y1="54" x2="688.2" y2="546"/>
<line x1="79" y1="547.0" x2="722" y2="547.0"/>
<line x1="79" y1="507.4" x2="722" y2="507.4"/>
<line x1="79" y1="467.9" x2="722" y2="467.9"/>
<line x1="79" y1="428.4" x2="722" y2="428.4"/>
<line x1="79" y1="388.8" x2="722" y2="388.8"/>
<line x1="79" y1="349.2" x2="722" y2="349.2"/>
<line x1="79" y1="309.7" x2="722" y2="309.7"/>
<line x1="79" y1="270.2" x2="722" y2="270.2"/>
<line x1="79" y1="230.6" x2="722" y2="230.6"/>
<line x1="79" y1="191.1" x2="722" y2="191.1"/>
<line x1="79" y1="151.5" x2="722" y2="151.5"/>
<line x1="79" y1="112.0" x2="722" y2="112.0"/>
<line x1="79" y1="72.4" x2="722" y2="72.4"/>
</g>
<circle cx="656.9" cy="152.5" r="1.8" fill="none" stroke="#5a6a2a" stroke-width="0.7"/>
<circle cx="561.5" cy="509" r="1.8" fill="none" stroke="#8a6a4a" stroke-width="0.7"/>
<text class="c" x="662" y="160" textLength="50" lengthAdjust="spacingAndGlyphs">Murmansk</text>
<text class="c" x="107.7" y="526.7" textLength="52" lengthAdjust="spacingAndGlyphs">Stockholm</text>
<text class="c" x="352" y="497" textLength="37.5" lengthAdjust="spacingAndGlyphs" style="fill:#3c4a3c">Helsinki</text>
<text class="c" x="561.75" y="520.5" textLength="67" lengthAdjust="spacingAndGlyphs">St. Petersbg.</text>
<rect x="78.5" y="535.5" width="644" height="11" fill="#fff" fill-opacity="0.22" stroke="#6a6a6a" stroke-opacity="0.6" stroke-width="0.8"/>
<text class="f" x="82" y="544.2" textLength="104.25" lengthAdjust="spacingAndGlyphs">meteo–services.com</text><text class="f" x="193.6" y="548.2" textLength="5.800000000000011" lengthAdjust="spacingAndGlyphs" style="font-size:13px">*</text><text class="f" x="206" y="544.2" textLength="39" lengthAdjust="spacingAndGlyphs">(c)2025</text><text class="f" x="252" y="544.2" textLength="21.75" lengthAdjust="spacingAndGlyphs">IWKF</text><text class="f" x="280.4" y="548.2" textLength="5.800000000000011" lengthAdjust="spacingAndGlyphs" style="font-size:13px">*</text><text class="f" x="292.5" y="544.2" textLength="11.25" lengthAdjust="spacingAndGlyphs">All</text><text class="f" x="310" y="544.2" textLength="26" lengthAdjust="spacingAndGlyphs">rights</text><text class="f" x="343.75" y="544.2" textLength="42.25" lengthAdjust="spacingAndGlyphs">reserved</text><text class="f" x="393.75" y="544.2" textLength="48.75" lengthAdjust="spacingAndGlyphs">(06+006)</text>
</g>
<rect x="77.5" y="38.5" width="645" height="14" fill="#fff" stroke="#c8c8c8" stroke-width="1"/>
<rect x="78" y="53" width="645" height="494" fill="none" stroke="#000" stroke-width="2"/>
<g stroke="#000" stroke-width="1.6"><line x1="78.0" y1="547" x2="78.0" y2="551"/><line x1="145.8" y1="547" x2="145.8" y2="551"/><line x1="213.6" y1="547" x2="213.6" y2="551"/><line x1="281.4" y1="547" x2="281.4" y2="551"/><line x1="349.2" y1="547" x2="349.2" y2="551"/><line x1="417.0" y1="547" x2="417.0" y2="551"/><line x1="484.8" y1="547" x2="484.8" y2="551"/><line x1="552.6" y1="547" x2="552.6" y2="551"/><line x1="620.4" y1="547" x2="620.4" y2="551"/><line x1="688.2" y1="547" x2="688.2" y2="551"/><line x1="73" y1="547.0" x2="78" y2="547.0"/><line x1="73" y1="507.4" x2="78" y2="507.4"/><line x1="73" y1="467.9" x2="78" y2="467.9"/><line x1="73" y1="428.4" x2="78" y2="428.4"/><line x1="73" y1="388.8" x2="78" y2="388.8"/><line x1="73" y1="349.2" x2="78" y2="349.2"/><line x1="73" y1="309.7" x2="78" y2="309.7"/><line x1="73" y1="270.2" x2="78" y2="270.2"/><line x1="73" y1="230.6" x2="78" y2="230.6"/><line x1="73" y1="191.1" x2="78" y2="191.1"/><line x1="73" y1="151.5" x2="78" y2="151.5"/><line x1="73" y1="112.0" x2="78" y2="112.0"/><line x1="73" y1="72.4" x2="78" y2="72.4"/></g>
<g class="ax"><text x="69.6" y="560.8" textLength="17" lengthAdjust="spacingAndGlyphs">16E</text><text x="137.4" y="560.8" textLength="17" lengthAdjust="spacingAndGlyphs">18E</text><text x="205.2" y="560.8" textLength="17" lengthAdjust="spacingAndGlyphs">20E</text><text x="273.0" y="560.8" textLength="17" lengthAdjust="spacingAndGlyphs">22E</text><text x="340.8" y="560.8" textLength="17" lengthAdjust="spacingAndGlyphs">24E</text><text x="408.6" y="560.8" textLength="17" lengthAdjust="spacingAndGlyphs">26E</text><text x="476.4" y="560.8" textLength="17" lengthAdjust="spacingAndGlyphs">28E</text><text x="544.2" y="560.8" textLength="17" lengthAdjust="spacingAndGlyphs">30E</text><text x="612.0" y="560.8" textLength="17" lengthAdjust="spacingAndGlyphs">32E</text><text x="679.8" y="560.8" textLength="17" lengthAdjust="spacingAndGlyphs">34E</text><text x="51.8" y="551.4" textLength="19.2" lengthAdjust="spacingAndGlyphs">59N</text><text x="51.8" y="511.8" textLength="19.2" lengthAdjust="spacingAndGlyphs">60N</text><text x="51.8" y="472.3" textLength="19.2" lengthAdjust="spacingAndGlyphs">61N</text><text x="51.8" y="432.8" textLength="19.2" lengthAdjust="spacingAndGlyphs">62N</text><text x="51.8" y="393.2" textLength="19.2" lengthAdjust="spacingAndGlyphs">63N</text><text x="51.8" y="353.6" textLength="19.2" lengthAdjust="spacingAndGlyphs">64N</text><text x="51.8" y="314.1" textLength="19.2" lengthAdjust="spacingAndGlyphs">65N</text><text x="51.8" y="274.6" textLength="19.2" lengthAdjust="spacingAndGlyphs">66N</text><text x="51.8" y="235.0" textLength="19.2" lengthAdjust="spacingAndGlyphs">67N</text><text x="51.8" y="195.5" textLength="19.2" lengthAdjust="spacingAndGlyphs">68N</text><text x="51.8" y="155.9" textLength="19.2" lengthAdjust="spacingAndGlyphs">69N</text><text x="51.8" y="116.4" textLength="19.2" lengthAdjust="spacingAndGlyphs">70N</text><text x="51.8" y="76.8" textLength="19.2" lengthAdjust="spacingAndGlyphs">71N</text></g>
<text class="t" y="32"><tspan x="81.75" textLength="29.5" lengthAdjust="spacingAndGlyphs">CETA</tspan> <tspan x="119.5" textLength="8" lengthAdjust="spacingAndGlyphs">–</tspan> <tspan x="136.25" textLength="25.5" lengthAdjust="spacingAndGlyphs">Inst.</tspan> <tspan x="171.75" textLength="7" lengthAdjust="spacingAndGlyphs">f.</tspan> <tspan x="186.25" textLength="47.5" lengthAdjust="spacingAndGlyphs">Wetter–</tspan> <tspan x="242.5" textLength="21.75" lengthAdjust="spacingAndGlyphs">und</tspan> <tspan x="272.5" textLength="125" lengthAdjust="spacingAndGlyphs">Klimafolgenanalysen</tspan> <tspan x="407" textLength="7.5" lengthAdjust="spacingAndGlyphs">–</tspan></text>
<text class="t" x="81.75" y="49" textLength="112.5" lengthAdjust="spacingAndGlyphs">Snowfall_[cm/3h]</text>
<text class="t" y="49"><tspan x="594.5" textLength="69.25" lengthAdjust="spacingAndGlyphs">14.12.2025</tspan> <tspan x="673.75" textLength="13.75" lengthAdjust="spacingAndGlyphs">12</tspan> <tspan x="695.75" textLength="22.5" lengthAdjust="spacingAndGlyphs">UTC</tspan></text>
</svg>
</body></html>
